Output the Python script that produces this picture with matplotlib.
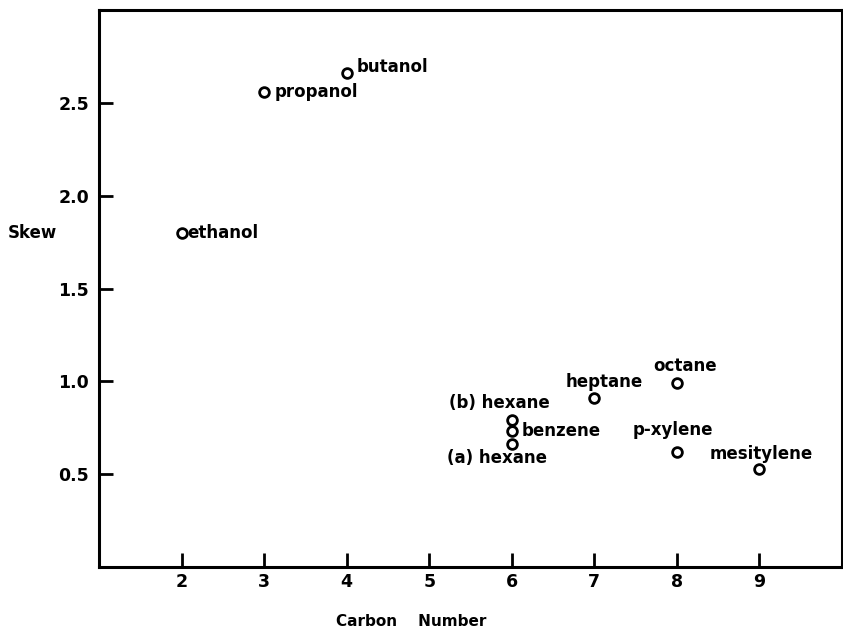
import matplotlib
matplotlib.use('Agg')
import matplotlib.pyplot as plt

# carbon number and skew for each compound
compounds = ['ethanol', 'propanol', 'butanol', '(b) hexane', 'benzene',
             '(a) hexane', 'heptane', 'octane', 'p-xylene', 'mesitylene']
carbon = [2, 3, 4, 6, 6, 6, 7, 8, 8, 9]
skew = [1.80, 2.56, 2.66, 0.79, 0.73, 0.665, 0.91, 0.99, 0.62, 0.53]

x_ticks = [2, 3, 4, 5, 6, 7, 8, 9]
y_ticks = [0.5, 1.0, 1.5, 2.0, 2.5]
y_tick_labels = ['0.5', '1.0', '1.5', '2.0', '2.5']

# label placement relative to the point, in pixels: (dx, dy, ha)
label_offsets = [(6, 0, 'left'), (11, 0, 'left'), (10, 6, 'left'),
                 (38, 17, 'right'), (10, 0, 'left'), (35, -14, 'right'),
                 (-29, 16, 'left'), (-24, 17, 'left'), (-44, 22, 'left'),
                 (-50, 15, 'left')]

plt.rcParams['font.family'] = ['DejaVu Sans']
plt.rcParams['font.weight'] = 'bold'

fig = plt.figure(figsize=(8.43, 6.32), dpi=100)
ax = fig.add_axes((99 / 843, 65 / 632, 743 / 843, 557 / 632))

ax.plot(carbon, skew, linestyle='none', marker='o', markersize=7,
        markerfacecolor='white', markeredgecolor='black', markeredgewidth=2)

for name, x, y, (dx, dy, ha) in zip(compounds, carbon, skew, label_offsets):
  ax.annotate(name, (x, y), xytext=(dx, dy), textcoords='offset pixels',
              ha=ha, va='center', fontsize=12, fontweight='bold')

ax.set_xlim(1, 10)
ax.set_ylim(0, 3)
ax.set_xticks(x_ticks)
ax.set_yticks(y_ticks)
ax.set_yticklabels(y_tick_labels)
ax.tick_params(direction='in', length=10, width=2, labelsize=12.5)
ax.tick_params(axis='y', pad=7)
ax.tick_params(axis='x', pad=4)
for lab in ax.get_xticklabels() + ax.get_yticklabels():
  lab.set_fontweight('bold')

for side in ['left', 'bottom', 'top', 'right']:
  ax.spines[side].set_linewidth(2.2)

fig.text(8 / 843, 1 - 233 / 632, 'Skew', ha='left', va='center',
         fontsize=12, fontweight='bold')
fig.text(411 / 843, 1 - 622 / 632, 'Carbon    Number', ha='center',
         va='center', fontsize=11, fontweight='bold')

fig.savefig('out.png', dpi=100)
